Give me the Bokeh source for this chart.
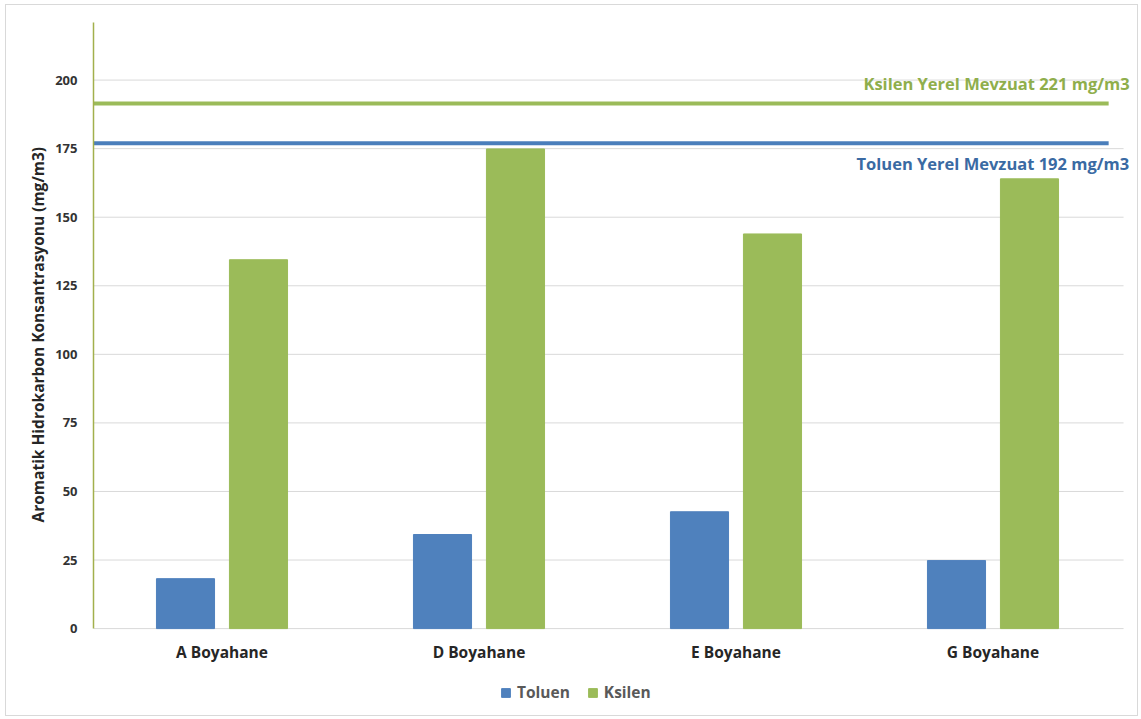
from bokeh.plotting import figure
from bokeh.models import Range1d, FixedTicker, Label, Legend, LegendItem, ColumnDataSource, Title
from bokeh.core.properties import value
from bokeh.embed import file_html
from bokeh.resources import INLINE

# Measured concentrations per paint shop (mg/m3)
plants = ["A Boyahane", "D Boyahane", "E Boyahane", "G Boyahane"]
toluen = [18.2, 34.3, 42.6, 24.8]
ksilen = [134.5, 174.9, 143.9, 164.0]

# Local regulation reference lines and their captions
ksilen_limit_line = 191.5
toluen_limit_line = 177.0
ksilen_limit_text = "Ksilen Yerel Mevzuat 221 mg/m3"
toluen_limit_text = "Toluen Yerel Mevzuat 192 mg/m3"

y_ticks = [0, 25, 50, 75, 100, 125, 150, 175, 200]

BLUE = "#4f81bd"
GREEN = "#9bbb59"
FONT = "Open Sans"

centers = [i + 0.5 for i in range(len(plants))]
src = ColumnDataSource(dict(
    x_t=[c - 0.142 for c in centers],
    x_k=[c + 0.142 for c in centers],
    toluen=toluen,
    ksilen=ksilen,
))
cat_src = ColumnDataSource(dict(x=centers, y=[-8.7] * len(plants), name=plants))

# The frame runs down past zero so that category names and legend sit inside it
p = figure(
    width=1133, height=712,
    x_range=Range1d(0, 4.0467),
    y_range=Range1d(-30.6, 221),
    output_backend="svg", toolbar_location=None,
    min_border_left=87, min_border_right=6, min_border_top=17, min_border_bottom=5,
)
p.styles = {"margin-left": "5px", "margin-top": "4px", "border": "1px solid #d9d9d9"}
p.outline_line_color = None
p.background_fill_color = "white"
p.border_fill_color = "white"
p.xgrid.grid_line_color = None
p.ygrid.grid_line_color = None

# Horizontal gridlines at the value ticks
p.segment(x0=0, x1=4.008, y0=y_ticks, y1=y_ticks, line_color="#d9d9d9", line_width=1)

bw = 0.226
r_t = p.vbar(x="x_t", top="toluen", width=bw, source=src, color=BLUE)
r_k = p.vbar(x="x_k", top="ksilen", width=bw, source=src, color=GREEN)

# Reference lines
p.segment(x0=0, x1=3.95, y0=ksilen_limit_line, y1=ksilen_limit_line, line_color=GREEN, line_width=4)
p.segment(x0=0, x1=3.95, y0=toluen_limit_line, y1=toluen_limit_line, line_color="#4a7ebb", line_width=4)

p.add_layout(Label(x=4.032, y=198.9, text=ksilen_limit_text, text_align="right", text_baseline="middle",
                   text_font=FONT, text_font_style="bold", text_font_size="16.5px", text_color="#8fae4c"))
p.add_layout(Label(x=4.030, y=169.5, text=toluen_limit_text, text_align="right", text_baseline="middle",
                   text_font=FONT, text_font_style="bold", text_font_size="16.5px", text_color="#3a6aa3"))

# Category names under the bars
p.text(x="x", y="y", text="name", source=cat_src, text_align="center", text_baseline="middle",
       text_font=value(FONT), text_font_style="bold", text_font_size="15.5px", text_color="#262626")

p.xaxis.visible = False

p.yaxis.ticker = FixedTicker(ticks=y_ticks)
p.yaxis.bounds = (0, 221)
p.yaxis.axis_line_color = "#a2b04c"
p.yaxis.axis_line_width = 1.5
p.yaxis.major_tick_line_color = None
p.yaxis.minor_tick_line_color = None
p.yaxis.major_label_text_font = FONT
p.yaxis.major_label_text_font_style = "bold"
p.yaxis.major_label_text_font_size = "13px"
p.yaxis.major_label_text_color = "#333333"
p.yaxis.major_label_standoff = 10

ytitle = Title(text="Aromatik Hidrokarbon Konsantrasyonu (mg/m3)", align="left", offset=190,
               text_font=FONT, text_font_style="bold", text_font_size="15.5px",
               text_color="#262626", standoff=8)
p.add_layout(ytitle, "left")

legend = Legend(
    items=[LegendItem(label="Toluen", renderers=[r_t]), LegendItem(label="Ksilen", renderers=[r_k])],
    orientation="horizontal", location=(407, 9),
    label_text_font=FONT, label_text_font_style="bold", label_text_font_size="15.5px",
    label_text_color="#595959", glyph_width=11, glyph_height=11, label_height=20,
    label_standoff=6, spacing=17,
    border_line_color=None, background_fill_alpha=0, margin=0, padding=0,
)
p.add_layout(legend, "center")

open("out.html", "w").write(file_html(p, INLINE))
